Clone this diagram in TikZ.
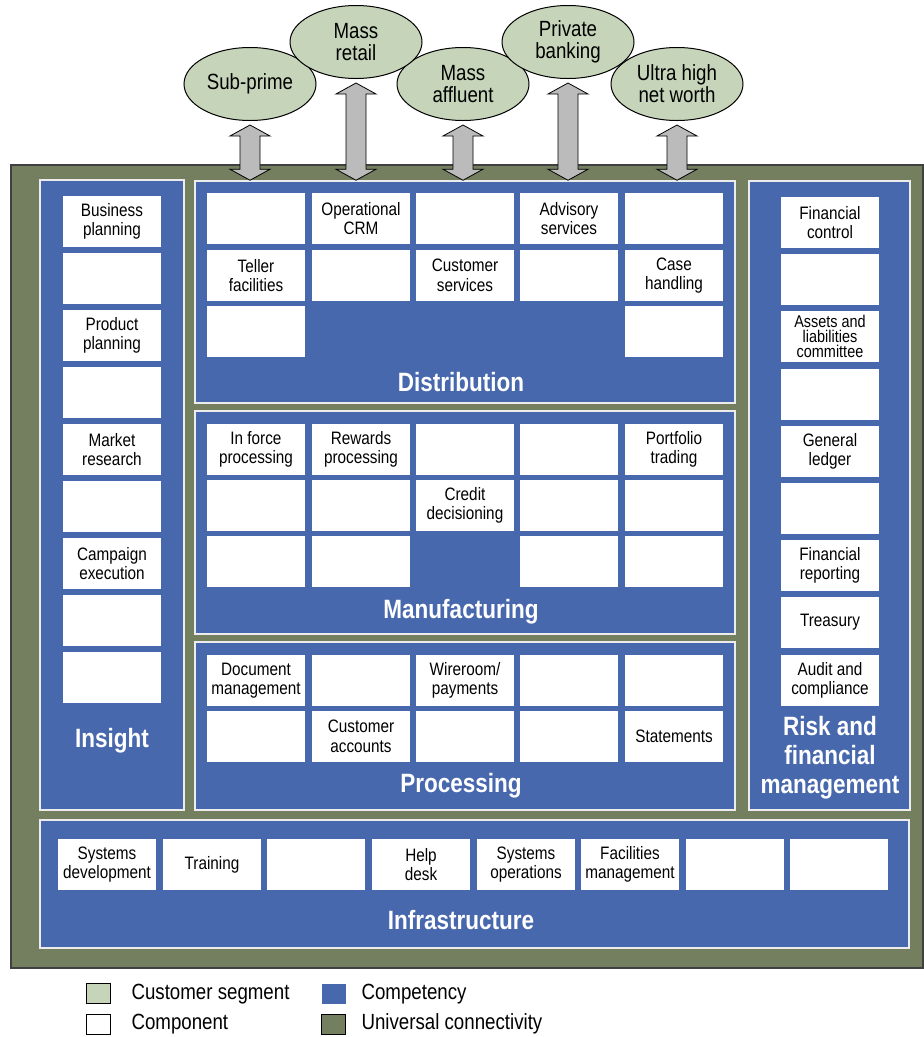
\documentclass[tikz,border=0pt]{standalone}
\usepackage{fontspec}
\setmainfont{Liberation Sans}[FakeStretch=0.85]
\usepackage{tikz}
\usetikzlibrary{shapes.geometric,calc}
\definecolor{segfill}{HTML}{C6D5BA}
\definecolor{compfill}{HTML}{4868AE}
\definecolor{connfill}{HTML}{737F5F}
\definecolor{linkfill}{HTML}{BBBBBB}
\tikzstyle{segment}=[ellipse, draw=black, line width=1pt, fill=segfill, minimum width=132pt, minimum height=73pt, inner sep=0pt, align=center, font=\fontsize{22}{22}\selectfont]
\tikzstyle{panel}=[draw=white!85!gray, line width=1.5pt, fill=compfill, inner sep=0pt]
\tikzstyle{comp}=[fill=white, minimum width=98pt, minimum height=51pt, inner sep=0pt, align=center, font=\fontsize{18}{19.5}\selectfont]
\tikzstyle{heading}=[text=white, align=center, font=\fontsize{26.5}{29}\selectfont\bfseries]
\tikzstyle{link}=[draw=black, line width=0.8pt, fill=linkfill, line join=miter]
\tikzstyle{swatch}=[minimum width=24pt, minimum height=20pt, inner sep=0pt]
\tikzstyle{keytext}=[anchor=west, font=\fontsize{22}{22}\selectfont]
\newcommand{\seglink}[2]{\draw[link] (#1) -- ++(-20,11) -- ++(10,0) -- ($(#2)+(-10,-11)$) -- ++(-10,0) -- (#2) -- ++(20,-11) -- ++(-10,0) -- ($(#1)+(10,11)$) -- ++(10,0) -- cycle;}

\begin{document}
\begin{tikzpicture}[x=1pt, y=-1pt]
    \useasboundingbox (0,0) rectangle (924,1037);
    \node[draw=black!75, line width=1.5pt, fill=connfill, minimum width=912pt, minimum height=803pt] (base) at (467,566.5) {};

    \node[panel, minimum width=144pt, minimum height=630pt] (insight) at (112,495) {};
    \node[panel, minimum width=540pt, minimum height=222pt] (dist) at (465,292) {};
    \node[panel, minimum width=540pt, minimum height=223pt] (manu) at (465,522.5) {};
    \node[panel, minimum width=540pt, minimum height=168pt] (proc) at (465,726) {};
    \node[panel, minimum width=161pt, minimum height=629pt] (risk) at (829.5,495.5) {};
    \node[panel, minimum width=869pt, minimum height=128pt] (infra) at (474.5,884) {};

    \node[comp] (i1) at (112,221.5) {Business\\planning};
    \node[comp] (i2) at (112,278.5) {};
    \node[comp] (i3) at (112,335.5) {Product\\planning};
    \node[comp] (i4) at (112,392.5) {};
    \node[comp] (i5) at (112,449.5) {Market\\research};
    \node[comp] (i6) at (112,506.5) {};
    \node[comp] (i7) at (112,563.5) {Campaign\\execution};
    \node[comp] (i8) at (112,620.5) {};
    \node[comp] (i9) at (112,677.5) {};
    \node[heading] (insight-t) at (112,741) {Insight};

    \node[comp] (d11) at (256,218.5) {};
    \node[comp] (d12) at (361,218.5) {Operational\\CRM};
    \node[comp] (d13) at (465,218.5) {};
    \node[comp] (d14) at (569,218.5) {Advisory\\services};
    \node[comp] (d15) at (674,218.5) {};
    \node[comp] (d21) at (256,275.5) {Teller\\facilities};
    \node[comp] (d22) at (361,275.5) {};
    \node[comp] (d23) at (465,275.5) {Customer\\services};
    \node[comp] (d24) at (569,275.5) {};
    \node[comp] (d25) at (674,275.5) {Case\\handling};
    \node[comp] (d31) at (256,331.5) {};
    \node[comp] (d35) at (674,331.5) {};
    \node[heading] (dist-t) at (461,382) {Distribution};

    \node[comp] (m11) at (256,449.5) {In force\\processing};
    \node[comp] (m12) at (361,449.5) {Rewards\\processing};
    \node[comp] (m13) at (465,449.5) {};
    \node[comp] (m14) at (569,449.5) {};
    \node[comp] (m15) at (674,449.5) {Portfolio\\trading};
    \node[comp] (m21) at (256,505.5) {};
    \node[comp] (m22) at (361,505.5) {};
    \node[comp] (m23) at (465,505.5) {Credit\\decisioning};
    \node[comp] (m24) at (569,505.5) {};
    \node[comp] (m25) at (674,505.5) {};
    \node[comp] (m31) at (256,561.5) {};
    \node[comp] (m32) at (361,561.5) {};
    \node[comp] (m34) at (569,561.5) {};
    \node[comp] (m35) at (674,561.5) {};
    \node[heading] (manu-t) at (461,612) {Manufacturing};

    \node[comp] (p11) at (256,680.5) {Document\\management};
    \node[comp] (p12) at (361,680.5) {};
    \node[comp] (p13) at (465,680.5) {Wireroom/\\payments};
    \node[comp] (p14) at (569,680.5) {};
    \node[comp] (p15) at (674,680.5) {};
    \node[comp] (p21) at (256,736.5) {};
    \node[comp] (p22) at (361,736.5) {Customer\\accounts};
    \node[comp] (p23) at (465,736.5) {};
    \node[comp] (p24) at (569,736.5) {};
    \node[comp] (p25) at (674,736.5) {Statements};
    \node[heading] (proc-t) at (461,786) {Processing};

    \node[comp] (r1) at (830,222.5) {Financial\\control};
    \node[comp] (r2) at (830,279.5) {};
    \node[comp, font=\fontsize{17}{15}\selectfont] (r3) at (830,336.5) {Assets and\\liabilities\\committee};
    \node[comp] (r4) at (830,394.5) {};
    \node[comp] (r5) at (830,451.5) {General\\ledger};
    \node[comp] (r6) at (830,508.5) {};
    \node[comp] (r7) at (830,565.5) {Financial\\reporting};
    \node[comp] (r8) at (830,622.5) {Treasury};
    \node[comp] (r9) at (830,680.5) {Audit and\\compliance};
    \node[heading] (risk-t) at (830,758) {Risk and\\financial\\management};

    \node[comp] (f1) at (107,864.5) {Systems\\development};
    \node[comp] (f2) at (212,864.5) {Training};
    \node[comp] (f3) at (316,864.5) {};
    \node[comp] (f4) at (421,864.5) {Help\\desk};
    \node[comp] (f5) at (526,864.5) {Systems\\operations};
    \node[comp] (f6) at (630,864.5) {Facilities\\management};
    \node[comp] (f7) at (735,864.5) {};
    \node[comp] (f8) at (839,864.5) {};
    \node[heading] (infra-t) at (461,920) {Infrastructure};

    \node[segment] (subprime) at (250,84) {Sub-prime};
    \node[segment] (affluent) at (463,84) {Mass\\affluent};
    \node[segment] (ultra) at (677,84) {Ultra high\\net worth};
    \node[segment] (retail) at (356,42) {Mass\\retail};
    \node[segment] (private) at (568,42) {Private\\banking};

    \coordinate (subprime-t) at ($(subprime.south)+(0,4)$);
    \coordinate (retail-t) at ($(retail.south)+(0,4)$);
    \coordinate (affluent-t) at ($(affluent.south)+(0,4)$);
    \coordinate (private-t) at ($(private.south)+(0,4)$);
    \coordinate (ultra-t) at ($(ultra.south)+(0,4)$);
    \coordinate (subprime-b) at (subprime.south |- dist.north);
    \coordinate (retail-b) at (retail.south |- dist.north);
    \coordinate (affluent-b) at (affluent.south |- dist.north);
    \coordinate (private-b) at (private.south |- dist.north);
    \coordinate (ultra-b) at (ultra.south |- dist.north);
    \seglink{subprime-t}{subprime-b}
    \seglink{retail-t}{retail-b}
    \seglink{affluent-t}{affluent-b}
    \seglink{private-t}{private-b}
    \seglink{ultra-t}{ultra-b}

    \node[swatch, draw=black, fill=segfill] (k1) at (98,993) {};
    \node[swatch, draw=black, fill=white] (k2) at (98,1024) {};
    \node[swatch, fill=compfill] (k3) at (333.5,993.5) {};
    \node[swatch, draw=black, fill=connfill] (k4) at (333.5,1024) {};
    \node[keytext] (k1-t) at (128,994) {Customer segment};
    \node[keytext] (k2-t) at (128,1024) {Component};
    \node[keytext] (k3-t) at (358,994) {Competency};
    \node[keytext] (k4-t) at (358,1024) {Universal connectivity};
\end{tikzpicture}
\end{document}
